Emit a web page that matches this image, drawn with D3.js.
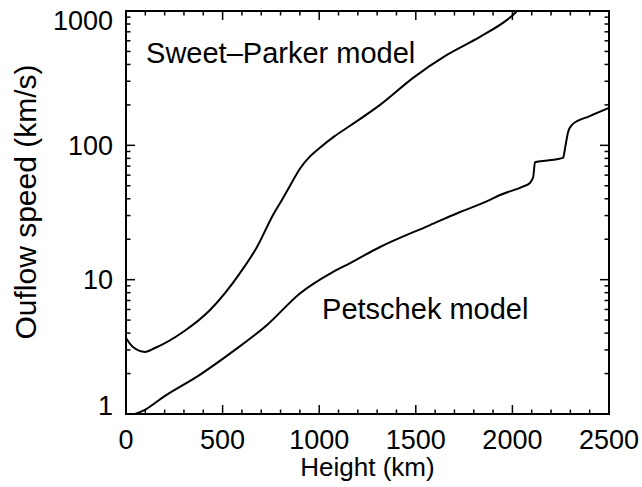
<!DOCTYPE html>
<html>
<head>
<meta charset="utf-8">
<script src="https://cdn.jsdelivr.net/npm/d3@7"></script>
<style>
    body { margin: 0; background: #fff; }
    svg { display: block; font-family: "Liberation Sans", Arial, Helvetica, sans-serif; }
</style>
</head>
<body>
<svg id="chart" width="642" height="487"></svg>
<script>
// heights (km) and outflow speeds (km/s)
const sweetParkerHeight = [0, 36, 98, 150, 295, 435, 590, 678, 761, 807, 849, 900, 950, 1004, 1080, 1160, 1315, 1486, 1661, 1832, 1972, 2003, 2040];
const sweetParkerSpeed = [3.68, 3.15, 2.9, 3.1, 4.08, 5.95, 11.2, 17.5, 30.3, 39.2, 50, 67, 82, 96, 117, 140, 200, 318, 471, 642, 859, 935, 1050];

const petschekHeight = [0, 100, 200, 380, 550, 730, 900, 1070, 1160, 1315, 1574, 1729, 1884, 1936, 2050, 2091, 2100, 2108, 2117, 2180, 2262, 2275, 2288, 2308, 2400, 2500];
const petschekSpeed = [0.95, 1.08, 1.36, 1.95, 2.9, 4.6, 7.9, 11.4, 13.3, 17.5, 25.5, 31.9, 39.2, 42.7, 49, 52.5, 55, 58.5, 74.8, 77, 80.6, 100, 125, 142, 165, 190];

const xTickValues = [0, 500, 1000, 1500, 2000, 2500];
const yTickValues = [1, 10, 100, 1000];
const labels = [
    {text: "Sweet\u2013Parker model", x: 104, y: 411},
    {text: "Petschek model", x: 1015, y: 5.1}
];

const svg = d3.select("#chart");
const width = +svg.attr("width");
const height = +svg.attr("height");
const margin = {top: 11, right: 33, bottom: 73, left: 126};

const x = d3.scaleLinear()
    .domain([0, 2500])
    .range([margin.left, width - margin.right]);

const y = d3.scaleLog()
    .domain([1, 1000])
    .range([height - margin.bottom, margin.top]);

svg.append("rect")
    .attr("width", width)
    .attr("height", height)
    .attr("fill", "#fff");

svg.append("clipPath")
    .attr("id", "plotClip")
    .append("rect")
    .attr("x", x(0))
    .attr("y", y(1000))
    .attr("width", x(2500) - x(0))
    .attr("height", y(1) - y(1000));

// minor + major ticks, drawn inward on all four sides
const xMinor = d3.range(0, 2501, 100);
const yMinor = y.ticks();
const tickG = svg.append("g").attr("stroke", "#000").attr("stroke-width", 1.5);

xMinor.forEach(v => {
    const len = v % 500 === 0 ? 9 : 4.5;
    tickG.append("line")
        .attr("x1", x(v)).attr("x2", x(v))
        .attr("y1", y(1)).attr("y2", y(1) - len);
    tickG.append("line")
        .attr("x1", x(v)).attr("x2", x(v))
        .attr("y1", y(1000)).attr("y2", y(1000) + len);
});

yMinor.forEach(v => {
    const len = yTickValues.includes(v) ? 9 : 4.5;
    tickG.append("line")
        .attr("x1", x(0)).attr("x2", x(0) + len)
        .attr("y1", y(v)).attr("y2", y(v));
    tickG.append("line")
        .attr("x1", x(2500)).attr("x2", x(2500) - len)
        .attr("y1", y(v)).attr("y2", y(v));
});

svg.append("rect")
    .attr("x", x(0))
    .attr("y", y(1000))
    .attr("width", x(2500) - x(0))
    .attr("height", y(1) - y(1000))
    .attr("fill", "none")
    .attr("stroke", "#000")
    .attr("stroke-width", 2);

// tick labels
svg.append("g")
    .selectAll("text")
    .data(xTickValues)
    .join("text")
    .attr("x", d => x(d))
    .attr("y", y(1) + 35)
    .attr("text-anchor", "middle")
    .attr("font-size", 27)
    .text(d => d);

svg.append("g")
    .selectAll("text")
    .data(yTickValues)
    .join("text")
    .attr("x", x(0) - 13)
    .attr("y", d => Math.min(Math.max(y(d), y(1000) + 9), y(1) - 9))
    .attr("dy", "0.36em")
    .attr("text-anchor", "end")
    .attr("font-size", 27)
    .text(d => d);

// axis titles
svg.append("text")
    .attr("x", (x(0) + x(2500)) / 2)
    .attr("y", 476)
    .attr("text-anchor", "middle")
    .attr("font-size", 26)
    .text("Height (km)");

svg.append("text")
    .attr("transform", "translate(36," + 202 + ") rotate(-90)")
    .attr("text-anchor", "middle")
    .attr("font-size", 30)
    .text("Ouflow speed (km/s)");

// curves
const line = d3.line()
    .x(d => x(d[0]))
    .y(d => y(d[1]))
    .curve(d3.curveMonotoneX);

const curves = [
    d3.zip(sweetParkerHeight, sweetParkerSpeed),
    d3.zip(petschekHeight, petschekSpeed)
];

svg.append("g")
    .attr("clip-path", "url(#plotClip)")
    .selectAll("path")
    .data(curves)
    .join("path")
    .attr("d", line)
    .attr("fill", "none")
    .attr("stroke", "#000")
    .attr("stroke-width", 2);

svg.append("g")
    .selectAll("text")
    .data(labels)
    .join("text")
    .attr("x", d => x(d.x))
    .attr("y", d => y(d.y))
    .attr("font-size", 29)
    .text(d => d.text);
</script>
</body>
</html>
